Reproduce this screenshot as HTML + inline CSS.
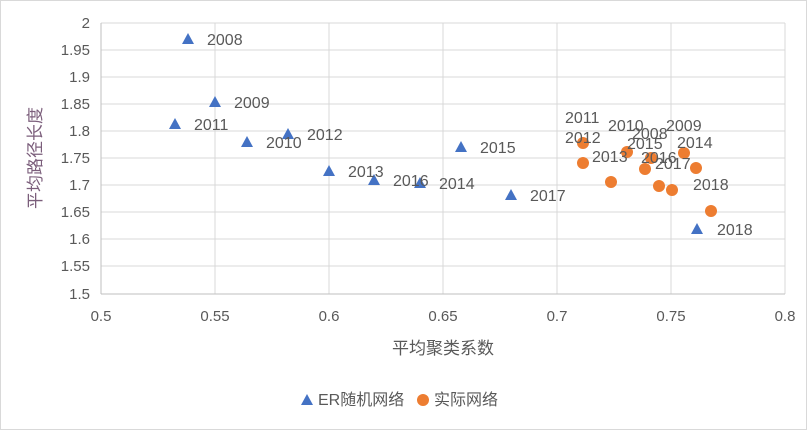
<!DOCTYPE html><html><head><meta charset="utf-8"><style>body{margin:0;background:#fff}svg{display:block}text{font-family:"Liberation Sans","Noto Sans CJK SC",sans-serif;fill:#595959}</style></head><body>
<svg width="807" height="430" xmlns="http://www.w3.org/2000/svg">
<rect x="0.5" y="0.5" width="806" height="429" fill="#fff" stroke="#d9d9d9"/>
<g stroke="#d9d9d9" stroke-width="1">
<line x1="101" y1="23" x2="785" y2="23"/><line x1="101" y1="50" x2="785" y2="50"/><line x1="101" y1="77" x2="785" y2="77"/><line x1="101" y1="104" x2="785" y2="104"/><line x1="101" y1="131" x2="785" y2="131"/><line x1="101" y1="158" x2="785" y2="158"/><line x1="101" y1="185" x2="785" y2="185"/><line x1="101" y1="212" x2="785" y2="212"/><line x1="101" y1="239" x2="785" y2="239"/><line x1="101" y1="266" x2="785" y2="266"/>
<line x1="215" y1="23" x2="215" y2="294"/><line x1="329" y1="23" x2="329" y2="294"/><line x1="443" y1="23" x2="443" y2="294"/><line x1="557" y1="23" x2="557" y2="294"/><line x1="671" y1="23" x2="671" y2="294"/><line x1="785" y1="23" x2="785" y2="294"/>
</g>
<line x1="101" y1="23" x2="101" y2="294" stroke="#bfbfbf"/><line x1="101" y1="294" x2="785" y2="294" stroke="#bfbfbf"/>
<g font-size="15" text-anchor="end">
<text x="90" y="28">2</text><text x="90" y="55">1.95</text><text x="90" y="82">1.9</text><text x="90" y="109">1.85</text><text x="90" y="136">1.8</text><text x="90" y="163">1.75</text><text x="90" y="190">1.7</text><text x="90" y="217">1.65</text><text x="90" y="244">1.6</text><text x="90" y="271">1.55</text><text x="90" y="299">1.5</text>
</g>
<g font-size="15" text-anchor="middle">
<text x="101" y="321">0.5</text><text x="215" y="321">0.55</text><text x="329" y="321">0.6</text><text x="443" y="321">0.65</text><text x="557" y="321">0.7</text><text x="671" y="321">0.75</text><text x="785" y="321">0.8</text>
</g>
<text x="443" y="354" font-size="17" text-anchor="middle">平均聚类系数</text>
<text transform="translate(41,158) rotate(-90)" font-size="17" text-anchor="middle" style="fill:#7b5e7b">平均路径长度</text>
<g fill="#4472c4">
<path d="M188,33 l6,11 h-12z"/><path d="M215,96 l6,11 h-12z"/><path d="M175,118 l6,11 h-12z"/><path d="M247,136 l6,11 h-12z"/><path d="M288,128 l6,11 h-12z"/><path d="M329,165 l6,11 h-12z"/><path d="M374,174 l6,11 h-12z"/><path d="M420,177 l6,11 h-12z"/><path d="M461,141 l6,11 h-12z"/><path d="M511,189 l6,11 h-12z"/><path d="M697,223 l6,11 h-12z"/>
</g>
<g fill="#ed7d31">
<circle cx="583" cy="143" r="6"/><circle cx="627" cy="152" r="6"/><circle cx="651" cy="158" r="6"/><circle cx="684" cy="153" r="6"/><circle cx="696" cy="168" r="6"/><circle cx="645" cy="169" r="6"/><circle cx="583" cy="163" r="6"/><circle cx="611" cy="182" r="6"/><circle cx="659" cy="186" r="6"/><circle cx="672" cy="190" r="6"/><circle cx="711" cy="211" r="6"/>
</g>
<g font-size="16" style="fill:#404040">
<text x="207" y="45">2008</text><text x="234" y="108">2009</text><text x="194" y="130">2011</text><text x="266" y="148">2010</text><text x="307" y="140">2012</text><text x="348" y="177">2013</text><text x="393" y="186">2016</text><text x="439" y="189">2014</text><text x="480" y="153">2015</text><text x="530" y="201">2017</text><text x="717" y="235">2018</text>
<text x="565" y="123">2011</text><text x="565" y="143">2012</text><text x="608" y="131">2010</text><text x="632" y="139">2008</text><text x="666" y="131">2009</text><text x="627" y="149">2015</text><text x="677" y="148">2014</text><text x="592" y="162">2013</text><text x="641" y="163">2016</text><text x="655" y="169">2017</text><text x="693" y="190">2018</text>
</g>
<path d="M307,394 l6,11 h-12z" fill="#4472c4"/>
<text x="318" y="405" font-size="16">ER随机网络</text>
<circle cx="423" cy="400" r="6" fill="#ed7d31"/>
<text x="434" y="405" font-size="16">实际网络</text>
</svg></body></html>
